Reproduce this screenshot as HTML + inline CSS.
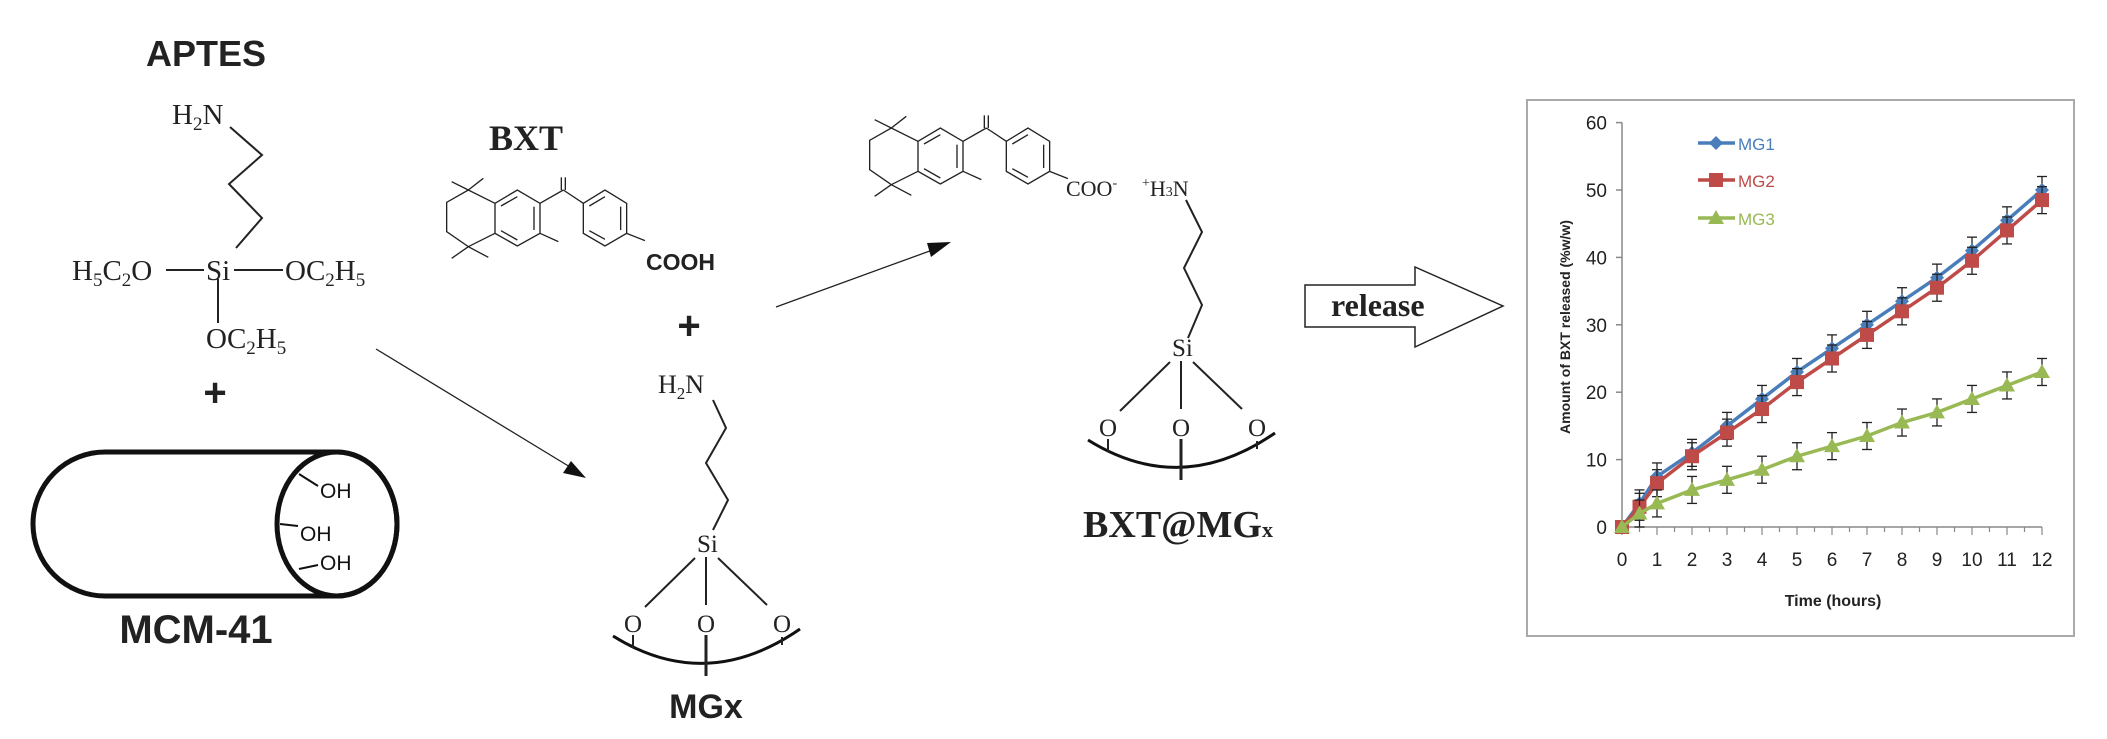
<!DOCTYPE html>
<html><head><meta charset="utf-8"><style>
html,body{margin:0;padding:0;background:#fff;}
svg{display:block}
.t{font-family:"Liberation Serif",serif;fill:#222}
.s{font-family:"Liberation Sans",sans-serif}
</style></head><body>
<svg id="svg" width="2107" height="739" viewBox="0 0 2107 739" xmlns="http://www.w3.org/2000/svg">
<defs>
<g id="bxt" fill="none" stroke="#222" stroke-width="4">
 <!-- zoom4 coords (x3) -->
 <line x1="115" y1="60" x2="65" y2="35"/><line x1="115" y1="60" x2="160" y2="25"/>
 <polyline points="195,100 115,60 50,97 50,185 115,230 195,190"/>
 <line x1="115" y1="230" x2="65" y2="265"/><line x1="115" y1="230" x2="175" y2="262"/>
 <polygon points="195,100 262,60 330,100 330,190 262,228 195,190"/>
 <line x1="213" y1="108" x2="262" y2="80"/><line x1="312" y1="110" x2="312" y2="180"/><line x1="213" y1="182" x2="262" y2="210"/>
 <line x1="330" y1="100" x2="400" y2="60"/><line x1="400" y1="60" x2="460" y2="100"/>
 <line x1="394" y1="60" x2="394" y2="22"/><line x1="406" y1="60" x2="406" y2="22"/>
 <line x1="330" y1="190" x2="385" y2="215"/>
 <polygon points="460,100 525,60 590,100 590,190 525,228 460,190"/>
 <line x1="478" y1="108" x2="525" y2="80"/><line x1="572" y1="110" x2="572" y2="180"/><line x1="478" y1="182" x2="525" y2="208"/>
 <line x1="590" y1="190" x2="645" y2="212"/>
</g>
</defs>

<!-- APTES -->
<text x="206" y="66" text-anchor="middle" class="s" font-weight="bold" font-size="36" fill="#222">APTES</text>
<text x="172" y="124" class="t" font-size="29">H<tspan font-size="19" dy="6">2</tspan><tspan dy="-6">N</tspan></text>
<polyline points="230,127 262,155 229,184 262,218 236,248" fill="none" stroke="#222" stroke-width="2"/>
<text x="72" y="280" class="t" font-size="29">H<tspan font-size="19" dy="6">5</tspan><tspan dy="-6">C</tspan><tspan font-size="19" dy="6">2</tspan><tspan dy="-6">O</tspan></text>
<line x1="166" y1="270" x2="204" y2="270" stroke="#222" stroke-width="2"/>
<text x="206" y="280" class="t" font-size="29">Si</text>
<line x1="234" y1="270" x2="283" y2="270" stroke="#222" stroke-width="2"/>
<text x="285" y="280" class="t" font-size="29">OC<tspan font-size="19" dy="6">2</tspan><tspan dy="-6">H</tspan><tspan font-size="19" dy="6">5</tspan></text>
<line x1="218" y1="279" x2="218" y2="323" stroke="#222" stroke-width="2"/>
<text x="206" y="348" class="t" font-size="29">OC<tspan font-size="19" dy="6">2</tspan><tspan dy="-6">H</tspan><tspan font-size="19" dy="6">5</tspan></text>
<text x="215" y="406" text-anchor="middle" class="s" font-weight="bold" font-size="40" fill="#222">+</text>

<!-- MCM-41 -->
<path d="M105,452 H337 A60,72 0 0 1 337,596 H105 A72,72 0 0 1 105,452 Z" fill="none" stroke="#111" stroke-width="5"/>
<ellipse cx="337" cy="524" rx="60" ry="72" fill="none" stroke="#111" stroke-width="5"/>
<path d="M299,474 L318,486 M280,524 L298,526 M299,569 L318,565" stroke="#111" stroke-width="2" fill="none"/>
<text x="320" y="498" class="s" font-size="21" fill="#111">OH</text>
<text x="300" y="541" class="s" font-size="21" fill="#111">OH</text>
<text x="320" y="570" class="s" font-size="21" fill="#111">OH</text>
<text x="196" y="643" text-anchor="middle" class="s" font-weight="bold" font-size="40" fill="#222">MCM-41</text>

<!-- BXT -->
<text x="526" y="150" text-anchor="middle" class="t" font-weight="bold" font-size="36">BXT</text>
<g transform="translate(430,170) scale(0.3333)"><use href="#bxt"/></g>
<text x="646" y="270" class="s" font-weight="bold" font-size="23" fill="#222">COOH</text>
<text x="689" y="339" text-anchor="middle" class="s" font-weight="bold" font-size="40" fill="#222">+</text>

<!-- arrow 1 -->
<line x1="376" y1="349" x2="575" y2="470" stroke="#222" stroke-width="1.3"/>
<polygon points="586,478 563,473 571,461" fill="#111"/>

<!-- MGx -->
<text x="658" y="393" class="t" font-size="26">H<tspan font-size="17" dy="6">2</tspan><tspan dy="-6">N</tspan></text>
<g id="mgbase" fill="none" stroke="#222" stroke-width="2">
<line x1="695" y1="558" x2="645" y2="607"/><line x1="706" y1="557" x2="706" y2="605"/><line x1="718" y1="558" x2="767" y2="605"/>
<path d="M613,636 Q706,694 800,629" stroke="#111" stroke-width="3"/>
<line x1="633" y1="635" x2="633" y2="648"/><line x1="706" y1="635" x2="706" y2="676" stroke-width="3"/><line x1="782" y1="637" x2="782" y2="645"/>
</g>
<polyline points="713,400 726,428 706,463 728,500 713,530" fill="none" stroke="#222" stroke-width="2"/>
<text x="697" y="552" class="t" font-size="25">Si</text>
<text x="633" y="632" text-anchor="middle" class="t" font-size="25">O</text>
<text x="706" y="632" text-anchor="middle" class="t" font-size="25">O</text>
<text x="782" y="632" text-anchor="middle" class="t" font-size="25">O</text>
<text x="706" y="718" text-anchor="middle" class="s" font-weight="bold" font-size="34" fill="#222">MGx</text>

<!-- arrow 2 -->
<line x1="776" y1="307" x2="938" y2="248" stroke="#222" stroke-width="1.3"/>
<polygon points="951,242 931,257 927,243" fill="#111"/>

<!-- BXT@MGx -->
<g transform="translate(853,108) scale(0.3333)"><use href="#bxt"/></g>
<text x="1066" y="196" class="t" font-size="22">COO<tspan font-size="14" dy="-9">-</tspan></text>
<text x="1142" y="196" class="t" font-size="22"><tspan font-size="14" dy="-9">+</tspan><tspan dy="9">H</tspan><tspan font-size="14">3</tspan>N</text>
<polyline points="1186,200 1202,232 1184,268 1202,305 1188,338" fill="none" stroke="#222" stroke-width="2"/>
<g transform="translate(475,-196)"><use href="#mgbase"/></g>
<text x="1172" y="356" class="t" font-size="25">Si</text>
<text x="1108" y="436" text-anchor="middle" class="t" font-size="25">O</text>
<text x="1181" y="436" text-anchor="middle" class="t" font-size="25">O</text>
<text x="1257" y="436" text-anchor="middle" class="t" font-size="25">O</text>
<text x="1178" y="537" text-anchor="middle" class="t" font-weight="bold" font-size="38">BXT@MG<tspan font-size="22">x</tspan></text>

<!-- release arrow -->
<polygon points="1305,285 1415,285 1415,267 1503,306 1415,347 1415,327 1305,327" fill="#fff" stroke="#222" stroke-width="1.5"/>
<text x="1331" y="316" class="t" font-weight="bold" font-size="32">release</text>

<!-- chart -->
<rect x="1527" y="100" width="547" height="536" fill="#fff" stroke="#aaa" stroke-width="2"/>
<g id="chart"></g>
</svg>
<script>
var NS="http://www.w3.org/2000/svg",g=document.getElementById('chart');
function el(n,a,t){var e=document.createElementNS(NS,n);for(var k in a)e.setAttribute(k,a[k]);if(t!=null)e.textContent=t;g.appendChild(e);return e;}
function X(t){return 1622+35*t}function Y(v){return 527-6.74*v}
el('line',{x1:1622,y1:Y(60),x2:1622,y2:527,stroke:'#888','stroke-width':1.5});
el('line',{x1:1622,y1:527,x2:2042,y2:527,stroke:'#888','stroke-width':1.5});
for(var v=0;v<=60;v+=10){el('line',{x1:1616,y1:Y(v),x2:1622,y2:Y(v),stroke:'#888','stroke-width':1.5});
 el('text',{x:1607,y:Y(v)+7,'text-anchor':'end','font-family':'Liberation Sans,sans-serif','font-size':19,fill:'#222'},v);}
for(var t=0;t<=12;t+=0.5){el('line',{x1:X(t),y1:527,x2:X(t),y2:t%1?532:535,stroke:'#888','stroke-width':1.2});}
for(var t=0;t<=12;t++)el('text',{x:X(t),y:566,'text-anchor':'middle','font-family':'Liberation Sans,sans-serif','font-size':19,fill:'#222'},t);
el('text',{x:1833,y:606,'text-anchor':'middle','font-family':'Liberation Sans,sans-serif','font-size':16,'font-weight':'bold',fill:'#222'},'Time (hours)');
el('text',{x:0,y:0,transform:'translate(1570,327) rotate(-90)','text-anchor':'middle','font-family':'Liberation Sans,sans-serif','font-size':14,'font-weight':'bold',fill:'#222'},'Amount of BXT  released (%w/w)');
var T=[0,.5,1,2,3,4,5,6,7,8,9,10,11,12];
var S=[{c:'#4a7ebb',m:'d',d:[0,3.5,7.5,11,15,19,23,26.5,30,33.5,37,41,45.5,50]},
{c:'#be4b48',m:'s',d:[0,3,6.5,10.5,14,17.5,21.5,25,28.5,32,35.5,39.5,44,48.5]},
{c:'#98b954',m:'t',d:[0,2,3.5,5.5,7,8.5,10.5,12,13.5,15.5,17,19,21,23]}];
function mk(m,x,y,c){if(m=='d')el('polygon',{points:(x-7)+','+y+' '+x+','+(y-7)+' '+(x+7)+','+y+' '+x+','+(y+7),fill:c});
 else if(m=='s')el('rect',{x:x-7,y:y-7,width:14,height:14,fill:c});
 else el('polygon',{points:(x-8)+','+(y+6)+' '+x+','+(y-8)+' '+(x+8)+','+(y+6),fill:c});}
S.forEach(function(s){var p=T.map(function(t,i){return X(t)+','+Y(s.d[i])}).join(' ');
 el('polyline',{points:p,fill:'none',stroke:s.c,'stroke-width':3.5});
 T.forEach(function(t,i){var x=X(t),y=Y(s.d[i]);if(i>0){el('line',{x1:x,y1:y-13.5,x2:x,y2:y+13.5,stroke:'#222','stroke-width':1.3});
  el('line',{x1:x-5,y1:y-13.5,x2:x+5,y2:y-13.5,stroke:'#222','stroke-width':1.3});el('line',{x1:x-5,y1:y+13.5,x2:x+5,y2:y+13.5,stroke:'#222','stroke-width':1.3});}
  mk(s.m,x,y,s.c);});});
var LY=[143,180,218],LN=['MG1','MG2','MG3'];
S.forEach(function(s,i){el('line',{x1:1698,y1:LY[i],x2:1735,y2:LY[i],stroke:s.c,'stroke-width':3.5});mk(s.m,1716,LY[i],s.c);
 el('text',{x:1738,y:LY[i]+7,'font-family':'Liberation Sans,sans-serif','font-size':17,fill:s.c},LN[i]);});
</script>
</body></html>
